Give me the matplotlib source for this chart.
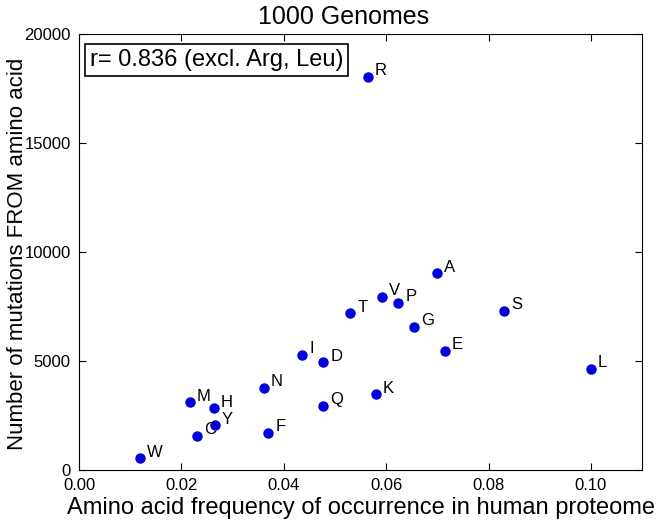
import matplotlib
matplotlib.use("Agg")
import matplotlib.pyplot as plt

plt.rcParams['font.family'] = ['Liberation Sans', 'DejaVu Sans']

labels = ['W', 'C', 'Y', 'M', 'H', 'F', 'N', 'Q', 'I', 'D', 'K', 'T', 'V', 'P', 'G', 'A', 'E', 'S', 'L', 'R']
freq = [0.0119, 0.0230, 0.0266, 0.0216, 0.0264, 0.0370, 0.0361, 0.0477, 0.0436, 0.0477,
        0.0580, 0.0530, 0.0592, 0.0624, 0.0655, 0.0700, 0.0714, 0.0830, 0.1000, 0.0564]
mutations = [550, 1573, 2064, 3119, 2844, 1711, 3775, 2950, 5290, 4954,
             3486, 7187, 7950, 7674, 6575, 9021, 5474, 7309, 4648, 18040]
xticks = [0.00, 0.02, 0.04, 0.06, 0.08, 0.10]
yticks = [0, 5000, 10000, 15000, 20000]

fig = plt.figure(figsize=(6.64, 5.21), dpi=100)
ax = fig.add_axes([0.119, 0.098, 0.848, 0.837])
ax.plot(freq, mutations, 'o', color='#0000dd', markersize=6.5, markeredgecolor='#0000dd')
for lab, x, y in zip(labels, freq, mutations):
    ax.annotate(lab, (x, y), xytext=(5, 1), textcoords='offset points', fontsize=12)

ax.set_xlim(0, 0.11)
ax.set_ylim(0, 20000)
ax.set_xticks(xticks)
ax.set_xticklabels(['%.2f' % t for t in xticks])
ax.set_yticks(yticks)
ax.tick_params(direction='in', top=True, right=True, labelsize=12, length=5, pad=6)
ax.set_xlabel('Amino acid frequency of occurrence in human proteome', fontsize=17, labelpad=3)
ax.set_ylabel('Number of mutations FROM amino acid', fontsize=16, va='center')
ax.yaxis.set_label_coords(-0.109, 0.495)
ax.set_title('1000 Genomes', fontsize=18, pad=7, x=0.47)
ax.text(0.019, 0.965, 'r= 0.836 (excl. Arg, Leu)', transform=ax.transAxes, fontsize=17,
        va='top', ha='left',
        bbox=dict(boxstyle='square,pad=0.2', facecolor='white', edgecolor='black', linewidth=1.2))

fig.savefig('out.png', dpi=100)
